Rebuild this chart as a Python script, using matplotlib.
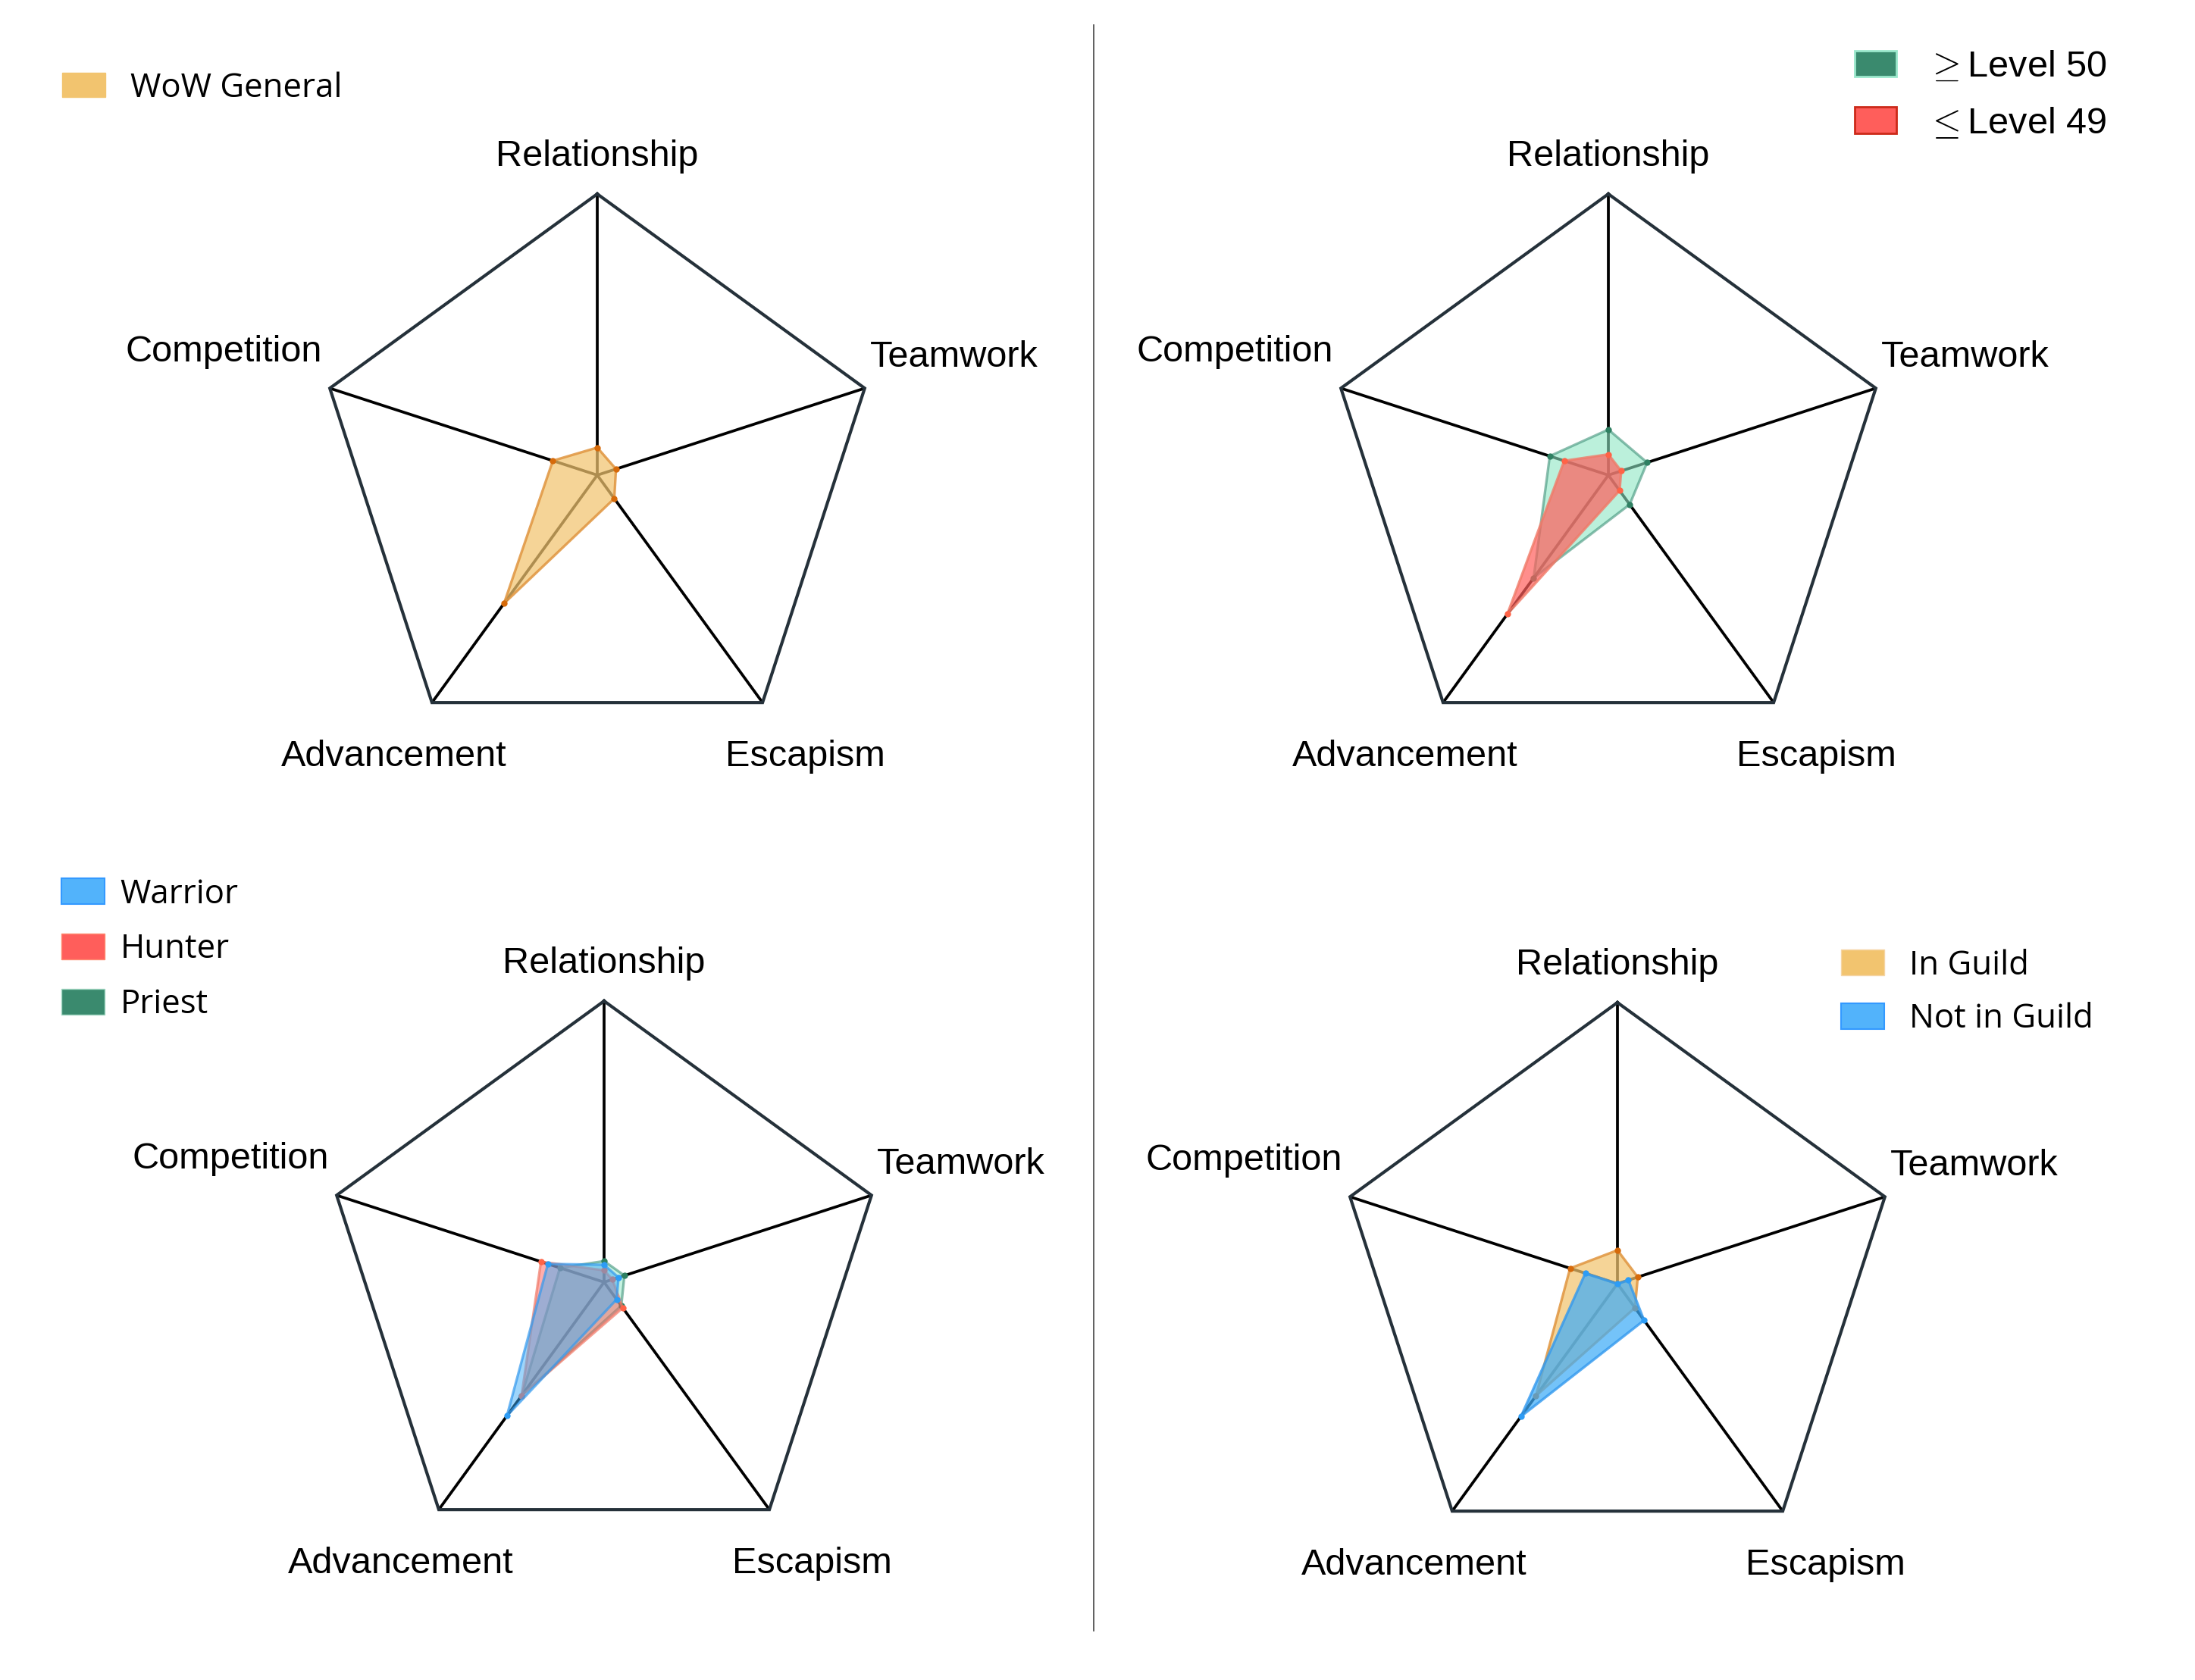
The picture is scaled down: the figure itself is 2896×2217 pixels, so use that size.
"""WoW 플레이어 동기 5축 레이더 차트 4종."""
import numpy as np
import matplotlib; matplotlib.use("Agg")
import matplotlib.pyplot as plt
from matplotlib.patches import Patch
from matplotlib.lines import Line2D

plt.rcParams["font.family"] = ["Liberation Sans", "DejaVu Sans"]
plt.rcParams["mathtext.fontset"] = "cm"

# 축 순서: 위에서 시계방향
axis_names = ["Relationship", "Teamwork", "Escapism", "Advancement", "Competition"]

wow_general = [0.098, 0.070, 0.103, 0.564, 0.166]

level_50_up = [0.162, 0.145, 0.129, 0.452, 0.219]
level_49_down = [0.074, 0.048, 0.068, 0.611, 0.165]

warrior = [0.062, 0.054, 0.076, 0.588, 0.210]
hunter = [0.042, 0.031, 0.113, 0.499, 0.236]
priest = [0.075, 0.076, 0.104, 0.499, 0.165]

in_guild = [0.119, 0.076, 0.106, 0.493, 0.177]
not_in_guild = [0.0, 0.041, 0.161, 0.584, 0.120]

W, H = 2896, 2217
R_PX = 371
L = 1.5
ang = np.deg2rad(90 - 72 * np.arange(5))
vx, vy = np.cos(ang), np.sin(ang)

# 라벨 위치 (반지름 단위)
lab_pos = [(0.0, 1.10, "center"), (0.970, 0.385, "left"), (0.741, -1.035, "center"),
           (-0.722, -1.035, "center"), (-0.978, 0.404, "right")]

fig = plt.figure(figsize=(W / 100, H / 100), dpi=100)


def make_ax(cx, cy):
    s = 2 * L * R_PX
    ax = fig.add_axes([(cx - s / 2) / W, (H - cy - s / 2) / H, s / W, s / H])
    ax.set_xlim(-L, L); ax.set_ylim(-L, L); ax.axis("off")
    return ax


def radar(ax, series):
    for x, y in zip(vx, vy):
        ax.plot([0, x], [0, y], color="black", lw=2.7, zorder=1, solid_capstyle="butt")
    ax.plot(np.r_[vx, vx[0]], np.r_[vy, vy[0]], color="#25313a", lw=3.0, zorder=1,
            solid_joinstyle="miter")
    for name, (px, py, ha) in zip(axis_names, lab_pos):
        ax.text(px, py, name, ha=ha, va="baseline", fontsize=35, color="black")
    for i, (vals, fc, fa, ec, ea, mc) in enumerate(series):
        r = np.asarray(vals)
        x, y = r * vx, r * vy
        z = 2 + 3 * i
        ax.fill(x, y, color=fc, alpha=fa, lw=0, zorder=z)
        ax.plot(np.r_[x, x[0]], np.r_[y, y[0]], color=ec, lw=2.4, alpha=ea, zorder=z + 1)
        ax.plot(x, y, "o", color=mc, ms=6, mec="none", zorder=z + 2)


ORANGE = ("#f2c46f", 0.72, "#e0953f", 0.85, "#d66a0a")
MINT = ("#8ee6c4", 0.6, "#3f9279", 0.6, "#2f8062")
RED = ("#ff5e5b", 0.7, "#f07a68", 0.8, "#ff6347")
BLUE_W = ("#3fadf8", 0.5, "#3399ee", 0.7, "#2d9cf5")
RED_H = ("#ff5e5b", 0.5, "#f07a68", 0.7, "#ff6347")
MINT_P = ("#8ee6c4", 0.5, "#3f9279", 0.6, "#2f8062")
BLUE_G = ("#3fadf8", 0.72, "#3399ee", 0.8, "#2d9cf5")

ax1 = make_ax(788, 627)
radar(ax1, [(wow_general, *ORANGE)])
ax2 = make_ax(2122, 627)
radar(ax2, [(level_50_up, *MINT), (level_49_down, *RED)])
ax3 = make_ax(797, 1692)
radar(ax3, [(priest, *MINT_P), (hunter, *RED_H), (warrior, *BLUE_W)])
ax4 = make_ax(2134, 1694)
radar(ax4, [(in_guild, *ORANGE), (not_in_guild, *BLUE_G)])

myriad = {"family": "Open Sans", "size": 31.5}


def leg(handles, labels, x, y, prop, hl, hh, pad, sp):
    fig.legend(handles, labels, loc="upper left", bbox_to_anchor=(x / W, 1 - y / H),
               frameon=False, borderpad=0, borderaxespad=0, prop=prop,
               handlelength=hl, handleheight=hh, handletextpad=pad, labelspacing=sp)


leg([Patch(fc="#f2c46f", ec="#f2c46f", lw=1)], ["WoW General"], 82, 94, myriad, 1.3, 0.75, 0.75, 0.5)
leg([Patch(fc="#52b3fb", ec="#3399ff", lw=1.5), Patch(fc="#ff5e5b", ec="#ff8a70", lw=1),
     Patch(fc="#3a8a6e", ec="#9fd6c0", lw=1)],
    ["Warrior", "Hunter", "Priest"], 81, 1158, myriad, 1.3, 0.82, 0.47, 0.65)
leg([Patch(fc="#3a8a6e", ec="#9be8cc", lw=2), Patch(fc="#ff5e5b", ec="#cc2a1a", lw=2)],
    [r"$\geq$Level 50", r"$\leq$Level 49"], 2447, 66,
    {"family": "Liberation Sans", "size": 35}, 1.13, 0.72, 0.8, 0.59)
leg([Patch(fc="#f2c46f", ec="#f5d5a5", lw=1), Patch(fc="#52b3fb", ec="#3399ff", lw=1.5)],
    ["In Guild", "Not in Guild"], 2429, 1252, myriad, 1.3, 0.82, 0.76, 0.6)

fig.add_artist(Line2D([1443 / W, 1443 / W], [1 - 33 / H, 1 - 2152 / H],
                      transform=fig.transFigure, color="#444444", lw=1.2))

fig.savefig("out.png", dpi=100, facecolor="white")
